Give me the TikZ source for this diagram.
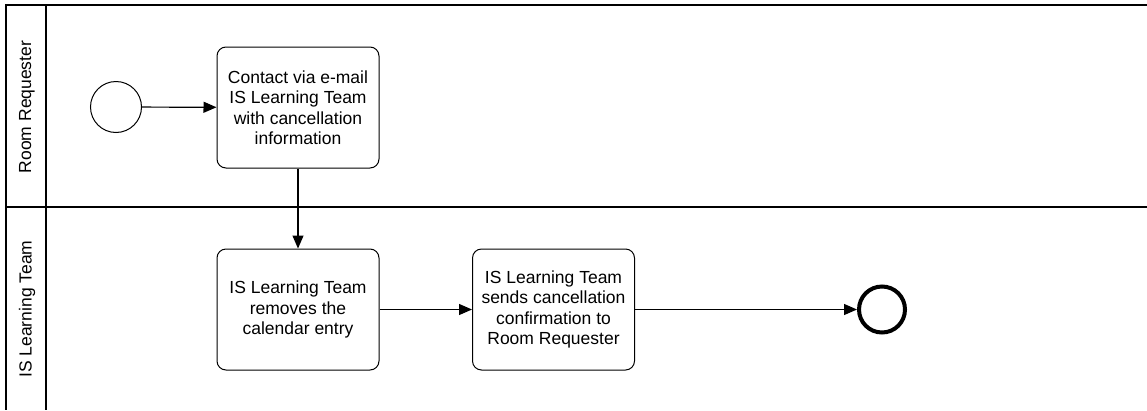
\documentclass[tikz,border=0pt]{standalone}
\usepackage{fontspec}
\setmainfont{Liberation Sans}
\usetikzlibrary{arrows.meta}

\begin{document}
\begin{tikzpicture}[x=1pt, y=-1pt,
    task/.style={draw, rounded corners=9pt, line width=1pt, minimum width=162pt,
        minimum height=121pt, inner sep=0pt, align=center,
        font=\fontsize{17.5}{20.5}\selectfont},
    lanelabel/.style={rotate=90, inner sep=0pt, font=\fontsize{17.5}{20.5}\selectfont},
    flow/.style={line width=1.2pt, -{Triangle[length=13pt, width=11pt]}},
    lane/.style={line width=1.3pt}]
    \useasboundingbox (0,0) rectangle (1147,410);

    % Pool and lane borders
    \draw[lane] (1147,5) -- (6,5) -- (6,410);
    \draw[lane] (46,5) -- (46,410);
    \draw[lane] (6,207) -- (1147,207);

    % Lane names
    \node[lanelabel] (lblRequester) at (27,107) {Room Requester};
    \node[lanelabel] (lblTeam) at (27,309) {IS Learning Team};

    % Start event
    \node[draw, circle, line width=1pt, minimum size=51pt, inner sep=0pt] (start) at (116,107) {};

    % Tasks
    \node[task] (contact) at (298,107.5) {Contact via e-mail\\IS Learning Team\\with cancellation\\information};
    \node[task] (remove) at (298,309.5) {IS Learning Team\\removes the\\calendar entry};
    \node[task] (confirm) at (553.5,309.5) {IS Learning Team\\sends cancellation\\confirmation to\\Room Requester};

    % End event
    \node[draw, circle, line width=4pt, minimum size=46pt, inner sep=0pt] (stop) at (882,309.5) {};

    % Sequence flows
    \draw[flow] (start) -- (contact);
    \draw[flow] (contact) -- (remove);
    \draw[flow] (remove) -- (confirm);
    \draw[flow] (confirm) -- (stop);
\end{tikzpicture}
\end{document}
